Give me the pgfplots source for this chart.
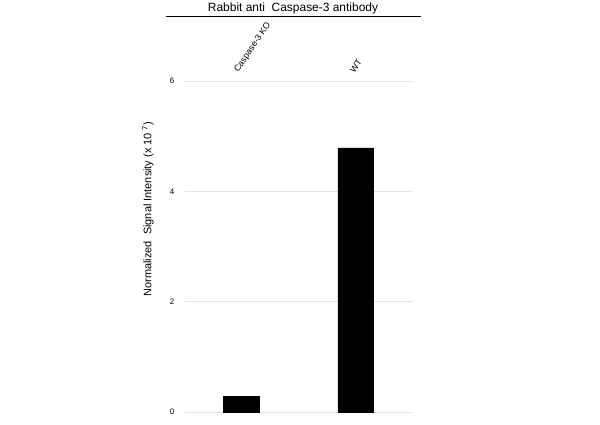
\documentclass[border=0pt]{standalone}
\usepackage{pgfplots}
\pgfplotsset{compat=1.18}
\usepackage{fontspec}
\setmainfont{Liberation Sans}
\begin{document}
\begin{tikzpicture}[x=1bp,y=1bp]
\path[use as bounding box] (0,0) rectangle (600,424);
\begin{axis}[
  at={(185bp,12bp)}, anchor=south west,
  scale only axis, width=228bp, height=331bp,
  xmin=-0.49, xmax=1.5, ymin=0, ymax=6,
  axis line style={draw=none},
  major tick style={draw=none},
  ytick={0,2,4,6},
  ymajorgrids, grid style={gray!22, line width=0.7pt},
  xtick=\empty,
  clip=false,
  /pgf/number format/assume math mode=true,
  yticklabel style={font=\fontsize{8}{9}\selectfont, anchor=center, xshift=-13bp},
  ybar, bar width=0.313,
]
\addplot[fill=black, draw=black] coordinates {(0,0.29) (1,4.79)};
\node[font=\fontsize{8.8}{10}\selectfont, rotate=56, anchor=south west, inner sep=0pt] at (axis cs:-0.01,6.13) {Caspase-3 KO};
\node[font=\fontsize{8.8}{10}\selectfont, rotate=56, anchor=south west, inner sep=0pt] at (axis cs:0.99,6.13) {WT};
\draw[black, line width=0.8pt] (axis description cs:-0.083,1.196) -- (axis description cs:1.035,1.196);
\end{axis}
\node[font=\fontsize{12}{14}\selectfont] at (293,416) {Rabbit anti\ \ Caspase-3 antibody};
\node[font=\fontsize{11}{13}\selectfont, rotate=90] at (148,215) {Normalized\ \ Signal Intensity (x 10 \textsuperscript{7})};
\end{tikzpicture}
\end{document}
